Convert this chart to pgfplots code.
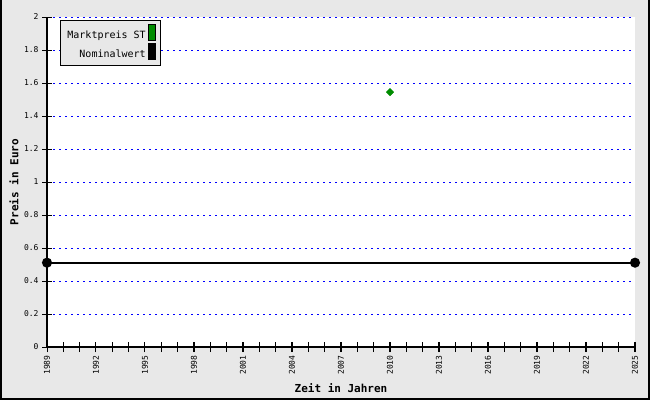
\documentclass[border=0pt]{standalone}
\usepackage{pgfplots}
\pgfplotsset{compat=1.18}
\usepackage{fontspec}
\setmainfont{DejaVu Sans Mono}
\definecolor{bggrey}{RGB}{232,232,232}
\definecolor{mygreen}{RGB}{0,140,0}
\definecolor{gridblue}{RGB}{0,0,255}
\begin{document}
\begin{tikzpicture}
\path[use as bounding box] (0,0) rectangle (650pt,400pt);
\fill[bggrey] (0,0) rectangle (650pt,400pt);
\draw[black, line width=2pt] (1pt,400pt) -- (1pt,1pt) -- (649pt,1pt) -- (649pt,400pt);
\begin{axis}[
    at={(47pt,53pt)}, anchor=south west,
    scale only axis,
    width=588pt, height=330pt,
    xmin=1989, xmax=2025,
    ymin=0, ymax=2,
    axis x line=bottom, axis y line=left,
    axis line style={-, line width=1.5pt},
    axis background/.style={fill=white},
    xtick={1989,1992,...,2025},
    minor xtick={1989,...,2025},
    ytick={0,0.2,...,2.01},
    tick align=center,
    major tick length=10pt, minor tick length=10pt,
    every tick/.style={black, line width=1pt},
    ymajorgrids,
    major grid style={gridblue, line width=1pt, dash pattern=on 2pt off 4pt},
    /pgf/number format/assume math mode=true,
    /pgf/number format/1000 sep={},
    xticklabel style={rotate=90, anchor=east, font=\fontsize{8}{9}\selectfont},
    yticklabel style={font=\fontsize{8}{9}\selectfont},
    xlabel={\textbf{Zeit in Jahren}},
    ylabel={\textbf{Preis in Euro}},
    xlabel style={at={(axis description cs:0.5,-0.124)}, anchor=center, font=\fontsize{11}{12}\selectfont},
    ylabel style={at={(axis description cs:-0.056,0.5)}, anchor=center, font=\fontsize{11}{12}\selectfont},
    clip=false,
    legend plot pos=right,
    legend cell align=right,
    legend style={at={(axis description cs:0.022,0.991)}, anchor=north west,
        fill=bggrey, draw=black, line width=1pt,
        font=\fontsize{10}{11}\selectfont, row sep=1pt,
        inner xsep=5pt, inner ysep=4pt},
]
\addplot[only marks, mark=square*, mark size=2.6pt, mark options={rotate=45}, color=mygreen,
    legend image code/.code={\draw[fill=mygreen, draw=black, line width=0.6pt] (0pt,-5pt) rectangle (7pt,11pt);}]
    coordinates {(2010,1.545)};
\addlegendentry{Marktpreis ST}
\addplot[black, line width=2pt, mark=*, mark size=4pt,
    legend image code/.code={\draw[fill=black, draw=black, line width=0.6pt] (0pt,-5pt) rectangle (7pt,11pt);}]
    coordinates {(1989,0.511) (2025,0.511)};
\addlegendentry{Nominalwert}
\end{axis}
\end{tikzpicture}
\end{document}
